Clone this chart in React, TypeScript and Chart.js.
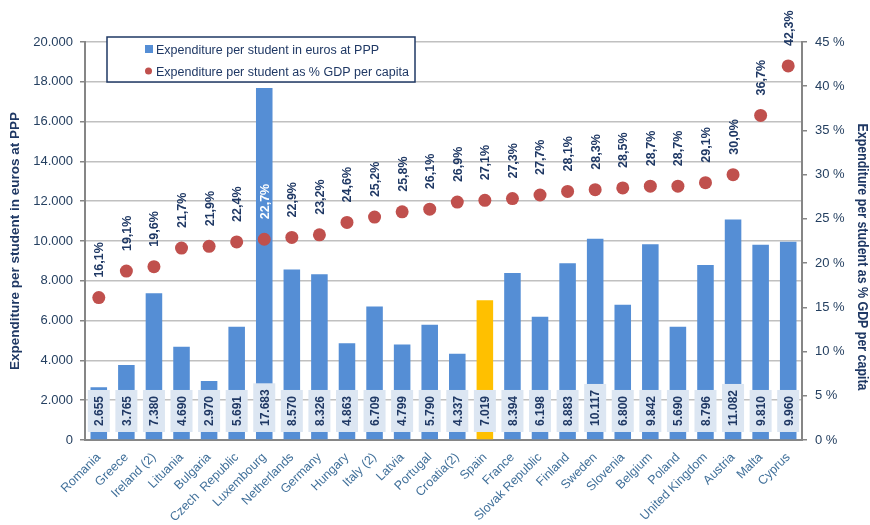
import React, { useEffect, useRef } from "react";
import { Chart, registerables } from "chart.js";

Chart.register(...registerables);

const countries = [
  "Romania", "Greece", "Ireland (2)", "Lituania", "Bulgaria", "Czech  Republic",
  "Luxembourg", "Netherlands", "Germany", "Hungary", "Italy (2)", "Latvia",
  "Portugal", "Croatia(2)", "Spain", "France", "Slovak Republic", "Finland",
  "Sweden", "Slovenia", "Belgium", "Poland", "United Kingdom", "Austria",
  "Malta", "Cyprus",
];

const expenditureEuros = [
  2655, 3765, 7380, 4690, 2970, 5691, 17683, 8570, 8326, 4863, 6709, 4799,
  5790, 4337, 7019, 8394, 6198, 8883, 10117, 6800, 9842, 5690, 8796, 11082,
  9810, 9960,
];

const expenditurePctGdp = [
  16.1, 19.1, 19.6, 21.7, 21.9, 22.4, 22.7, 22.9, 23.2, 24.6, 25.2, 25.8,
  26.1, 26.9, 27.1, 27.3, 27.7, 28.1, 28.3, 28.5, 28.7, 28.7, 29.1, 30.0,
  36.7, 42.3,
];

const highlightCountry = "Spain";

const seriesLabels = [
  "Expenditure per student in euros at PPP",
  "Expenditure per student as % GDP per capita",
];
const leftAxisTitle = "Expenditure per student in euros at PPP";
const rightAxisTitle = "Expenditure per student as % GDP per capita";

const BAR_COLOR = "#558ed5";
const HIGHLIGHT_COLOR = "#ffc000";
const POINT_COLOR = "#c0504d";
const NAVY = "#1f3864";
const AXIS_GREY = "#868686";
const GRID_GREY = "#c0c0c0";
const FONT = "'Liberation Sans', Arial, sans-serif";

const fmtThousands = (v: number) =>
  String(Math.round(v)).replace(/\B(?=(\d{3})+(?!\d))/g, ".");
const fmtPct = (v: number) => v.toFixed(1).replace(".", ",") + "%";

const annotatePlugin = {
  id: "annotate",
  afterDatasetsDraw(chart: any) {
    const ctx = chart.ctx as CanvasRenderingContext2D;
    const ptMeta = chart.getDatasetMeta(0);
    const barMeta = chart.getDatasetMeta(1);
    const yZero = chart.scales.y.getPixelForValue(0);
    ctx.save();
    ctx.font = `bold 12px ${FONT}`;
    barMeta.data.forEach((bar: any, i: number) => {
      const text = fmtThousands(expenditureEuros[i]);
      const w = ctx.measureText(text).width;
      const boxH = w + 12;
      const boxW = 22;
      const bottom = yZero - 8;
      ctx.fillStyle = "#dce6f2";
      ctx.fillRect(bar.x - boxW / 2, bottom - boxH, boxW, boxH);
      ctx.save();
      ctx.translate(bar.x + 1, bottom - boxH / 2);
      ctx.rotate(-Math.PI / 2);
      ctx.fillStyle = NAVY;
      ctx.textAlign = "center";
      ctx.textBaseline = "middle";
      ctx.fillText(text, 0, 0);
      ctx.restore();
    });
    ctx.font = `bold 12.5px ${FONT}`;
    ptMeta.data.forEach((pt: any, i: number) => {
      const text = fmtPct(expenditurePctGdp[i]);
      const w = ctx.measureText(text).width;
      const start = pt.y - 20;
      const bar = barMeta.data[i];
      const overBar = bar && bar.y < start - w;
      ctx.save();
      ctx.translate(pt.x + 1, start);
      ctx.rotate(-Math.PI / 2);
      ctx.fillStyle = overBar ? "#ffffff" : NAVY;
      ctx.textAlign = "left";
      ctx.textBaseline = "middle";
      ctx.fillText(text, 0, 0);
      ctx.restore();
    });
    ctx.restore();
  },
  afterDraw(chart: any) {
    const ctx = chart.ctx as CanvasRenderingContext2D;
    const area = chart.chartArea;
    ctx.save();
    // axis titles
    ctx.fillStyle = NAVY;
    ctx.textAlign = "center";
    ctx.textBaseline = "middle";
    ctx.font = `bold 13.5px ${FONT}`;
    ctx.save();
    ctx.translate(15, (area.top + area.bottom) / 2);
    ctx.rotate(-Math.PI / 2);
    ctx.fillText(leftAxisTitle, 0, 0);
    ctx.restore();
    ctx.font = `bold 15px ${FONT}`;
    const rw = ctx.measureText(rightAxisTitle).width;
    const targetW = 267;
    ctx.save();
    ctx.translate(862, (area.top + area.bottom) / 2 + 16);
    ctx.rotate(Math.PI / 2);
    ctx.scale(Math.min(1, targetW / rw), 1);
    ctx.fillText(rightAxisTitle, 0, 0);
    ctx.restore();

    // legend
    const lx = 107, ly = 37, lw = 308, lh = 45;
    ctx.fillStyle = "#ffffff";
    ctx.fillRect(lx, ly, lw, lh);
    ctx.strokeStyle = NAVY;
    ctx.lineWidth = 1.5;
    ctx.strokeRect(lx, ly, lw, lh);
    ctx.font = `12.5px ${FONT}`;
    ctx.textAlign = "left";
    ctx.textBaseline = "middle";
    ctx.fillStyle = BAR_COLOR;
    ctx.fillRect(145, 45, 8, 8);
    ctx.fillStyle = NAVY;
    ctx.fillText(chart.data.datasets[1].label, 156, 51);
    ctx.fillStyle = POINT_COLOR;
    ctx.beginPath();
    ctx.arc(148.5, 71, 3.5, 0, Math.PI * 2);
    ctx.fill();
    ctx.fillStyle = NAVY;
    ctx.fillText(chart.data.datasets[0].label, 156, 73);
    ctx.restore();
  },
};

export default function App() {
  const canvasRef = useRef<HTMLCanvasElement | null>(null);

  useEffect(() => {
    if (!canvasRef.current) return;
    Chart.defaults.font.family = FONT;
    const chart = new Chart(canvasRef.current, {
      type: "bar",
      data: {
        labels: countries,
        datasets: [
          {
            type: "line",
            label: seriesLabels[1],
            data: expenditurePctGdp,
            yAxisID: "y1",
            showLine: false,
            pointRadius: 6.5,
            pointHoverRadius: 6.5,
            pointBackgroundColor: POINT_COLOR,
            pointBorderWidth: 0,
            borderColor: POINT_COLOR,
            order: 0,
          } as any,
          {
            type: "bar",
            label: seriesLabels[0],
            data: expenditureEuros,
            yAxisID: "y",
            backgroundColor: countries.map((c) =>
              c === highlightCountry ? HIGHLIGHT_COLOR : BAR_COLOR
            ),
            barPercentage: 0.6,
            categoryPercentage: 1,
            order: 1,
          },
        ],
      },
      options: {
        responsive: false,
        animation: false,
        devicePixelRatio: 1,
        layout: { padding: { top: 42, left: 0, right: 0, bottom: 0 } },
        plugins: {
          legend: { display: false },
          tooltip: { enabled: false },
        },
        scales: {
          x: {
            type: "category",
            offset: true,
            grid: { display: false, drawTicks: false },
            border: { display: true, color: AXIS_GREY, width: 2 },
            ticks: {
              autoSkip: false,
              maxRotation: 45,
              minRotation: 45,
              padding: 10,
              color: "#41709a",
              font: { size: 12.5, family: FONT },
            },
            afterFit: (s: any) => {
              s.height = 85;
            },
          },
          y: {
            position: "left",
            min: 0,
            max: 20000,
            ticks: {
              stepSize: 2000,
              padding: 7,
              color: "#243f60",
              font: { size: 13, family: FONT },
              callback: (v: any) => fmtThousands(Number(v)),
            },
            grid: {
              color: GRID_GREY,
              lineWidth: 1.5,
              tickColor: AXIS_GREY,
              tickLength: 5,
            },
            border: { display: true, color: AXIS_GREY, width: 2 },
            afterFit: (s: any) => {
              s.width = 85;
            },
          },
          y1: {
            position: "right",
            min: 0,
            max: 45,
            ticks: {
              stepSize: 5,
              padding: 8,
              color: "#243f60",
              font: { size: 13, family: FONT },
              callback: (v: any) => `${v} %`,
            },
            grid: {
              drawOnChartArea: false,
              color: AXIS_GREY,
              lineWidth: 1.5,
              tickLength: 5,
            },
            border: { display: true, color: AXIS_GREY, width: 2 },
            afterFit: (s: any) => {
              s.width = 68;
            },
          },
        },
      },
      plugins: [annotatePlugin],
    });
    return () => chart.destroy();
  }, []);

  return (
    <div style={{ position: "fixed", left: 0, top: 0, width: 870, height: 525, background: "#ffffff" }}>
      <canvas ref={canvasRef} width={870} height={525} style={{ display: "block" }} />
    </div>
  );
}
